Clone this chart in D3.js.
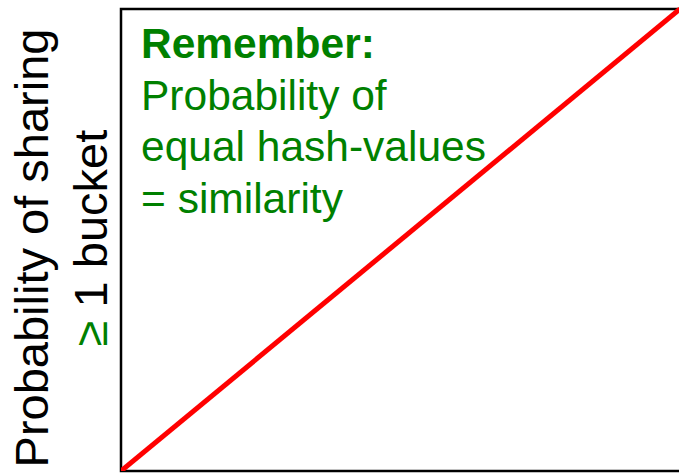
<!DOCTYPE html>
<html>
<head>
<meta charset="utf-8">
<script src="https://cdn.jsdelivr.net/npm/d3@7"></script>
<style>
  html, body { margin: 0; padding: 0; background: #fff; }
  svg { display: block; }
</style>
</head>
<body>
<svg id="chart" width="679" height="474"></svg>
<script>
// Data
const similarity = [0, 1];
const probability = [0, 1];
const noteLines = ["Remember:", "Probability of", "equal hash-values", "= similarity"];
const yLabelLine1 = "Probability of sharing";
const yLabelLine2 = ["≥", " 1 bucket"];

(function () {
const svg = d3.select("#chart");
const mLeft = 121, mTop = 9, mRight = 680, mBottom = 471;

const x = d3.scaleLinear().domain([0, 1]).range([mLeft, mRight]);
const y = d3.scaleLinear().domain([0, 1]).range([mBottom, mTop]);

svg.append("defs").append("clipPath").attr("id", "clip")
  .append("rect").attr("x", mLeft).attr("y", mTop - 2)
  .attr("width", mRight - mLeft).attr("height", mBottom - mTop + 2);

// frame
svg.append("rect")
  .attr("x", mLeft).attr("y", mTop)
  .attr("width", mRight - mLeft + 4).attr("height", mBottom - mTop)
  .attr("fill", "none").attr("stroke", "#000").attr("stroke-width", 2.5);

// line
const pts = similarity.map((s, i) => [s, probability[i]]);
svg.append("path")
  .datum(pts)
  .attr("clip-path", "url(#clip)")
  .attr("d", d3.line().x(d => x(d[0])).y(d => y(d[1])))
  .attr("fill", "none").attr("stroke", "#ff0000").attr("stroke-width", 5);

// note
const green = "#008000";
const note = svg.append("g").attr("font-family", "Arial, 'Liberation Sans', sans-serif")
  .attr("fill", green);
const baselines = [58, 110, 161, 213];
noteLines.forEach((t, i) => {
  note.append("text")
    .attr("x", 141).attr("y", baselines[i])
    .attr("font-size", 42.5)
    .attr("font-weight", i === 0 ? "bold" : "normal")
    .text(t);
});

// y label
const yl = svg.append("g").attr("font-family", "Arial, 'Liberation Sans', sans-serif")
  .attr("font-size", 47).attr("fill", "#000");
yl.append("text")
  .attr("transform", "translate(48,248) rotate(-90)")
  .attr("text-anchor", "middle")
  .text(yLabelLine1);
const t2 = yl.append("text")
  .attr("transform", "translate(107,238) rotate(-90)")
  .attr("text-anchor", "middle");
t2.append("tspan").attr("fill", green).text(yLabelLine2[0]);
t2.append("tspan").text(yLabelLine2[1]);
})();
</script>
</body>
</html>
